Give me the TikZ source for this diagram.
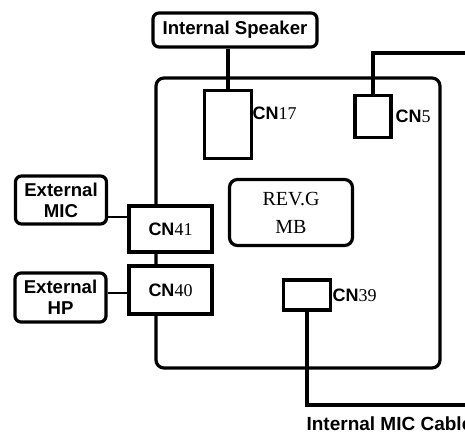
\documentclass[tikz,border=0pt]{standalone}
\usepackage{fontspec}
\setmainfont{Liberation Serif}
\setsansfont{Liberation Sans}
\begin{document}
\begin{tikzpicture}[x=1pt,y=-1pt, line width=3.2pt,
  extbox/.style={draw, rounded corners=6pt, font=\sffamily\bfseries\fontsize{18.6}{21}\selectfont, align=center, inner sep=0pt},
  connbox/.style={draw, fill=white, inner sep=0pt},
  cnlab/.style={font=\fontsize{18}{20}\selectfont, inner sep=0pt, anchor=west},
  thinwire/.style={line width=2.4pt}]
\clip (0,0) rectangle (465,435);
\fill[white] (0,0) rectangle (465,435);
% main board
\node[draw, rounded corners=8pt, minimum width=284pt, minimum height=290pt, inner sep=0pt] (board) at (298,223) {};
% boxes
\node[extbox, minimum width=164pt, minimum height=34pt] (speaker) at (235,30) {Internal Speaker};
\node[connbox, minimum width=47pt, minimum height=68pt] (cn17) at (228,124.5) {};
\node[connbox, minimum width=36pt, minimum height=42pt] (cn5) at (373,116.5) {};
\node[draw, rounded corners=8pt, minimum width=123pt, minimum height=66pt, inner sep=0pt, align=center, font=\fontsize{20}{28}\selectfont] (revg) at (291,212.5) {REV.G\\MB};
\node[connbox, minimum width=83pt, minimum height=46pt, font=\fontsize{18}{20}\selectfont] (cn41) at (170.5,229) {{\sffamily\bfseries CN}41};
\node[connbox, minimum width=83pt, minimum height=48pt, font=\fontsize{18}{20}\selectfont] (cn40) at (170.5,290) {{\sffamily\bfseries CN}40};
\node[extbox, minimum width=91pt, minimum height=48pt] (extmic) at (61,200) {External\\MIC};
\node[extbox, minimum width=91pt, minimum height=49pt] (exthp) at (60.5,297.5) {External\\HP};
\node[connbox, minimum width=47pt, minimum height=30pt] (cn39) at (307,295) {};
% labels
\node[cnlab] (l17) at (251,113) {{\sffamily\bfseries CN}17};
\node[cnlab] (l5) at (394,116) {{\sffamily\bfseries CN}5};
\node[cnlab] (l39) at (331,295) {{\sffamily\bfseries CN}39};
\node[font=\sffamily\bfseries\fontsize{19}{22}\selectfont, inner sep=0pt, anchor=west] (cable) at (305,424) {Internal MIC Cable};
% wires
\coordinate (c5end) at (470,53);
\coordinate (c39end) at (470,405);
\draw (speaker.south -| cn17.north) -- (cn17.north);
\draw (cn5.north) |- (c5end);
\draw (cn39.south) |- (c39end);
\draw[thinwire] ([yshift=-17pt]extmic.east) -- ([yshift=-17pt]extmic.east -| cn41.west);
\draw[thinwire] ([yshift=4.5pt]exthp.east) -- ([yshift=4.5pt]exthp.east -| cn40.west);
\end{tikzpicture}
\end{document}
